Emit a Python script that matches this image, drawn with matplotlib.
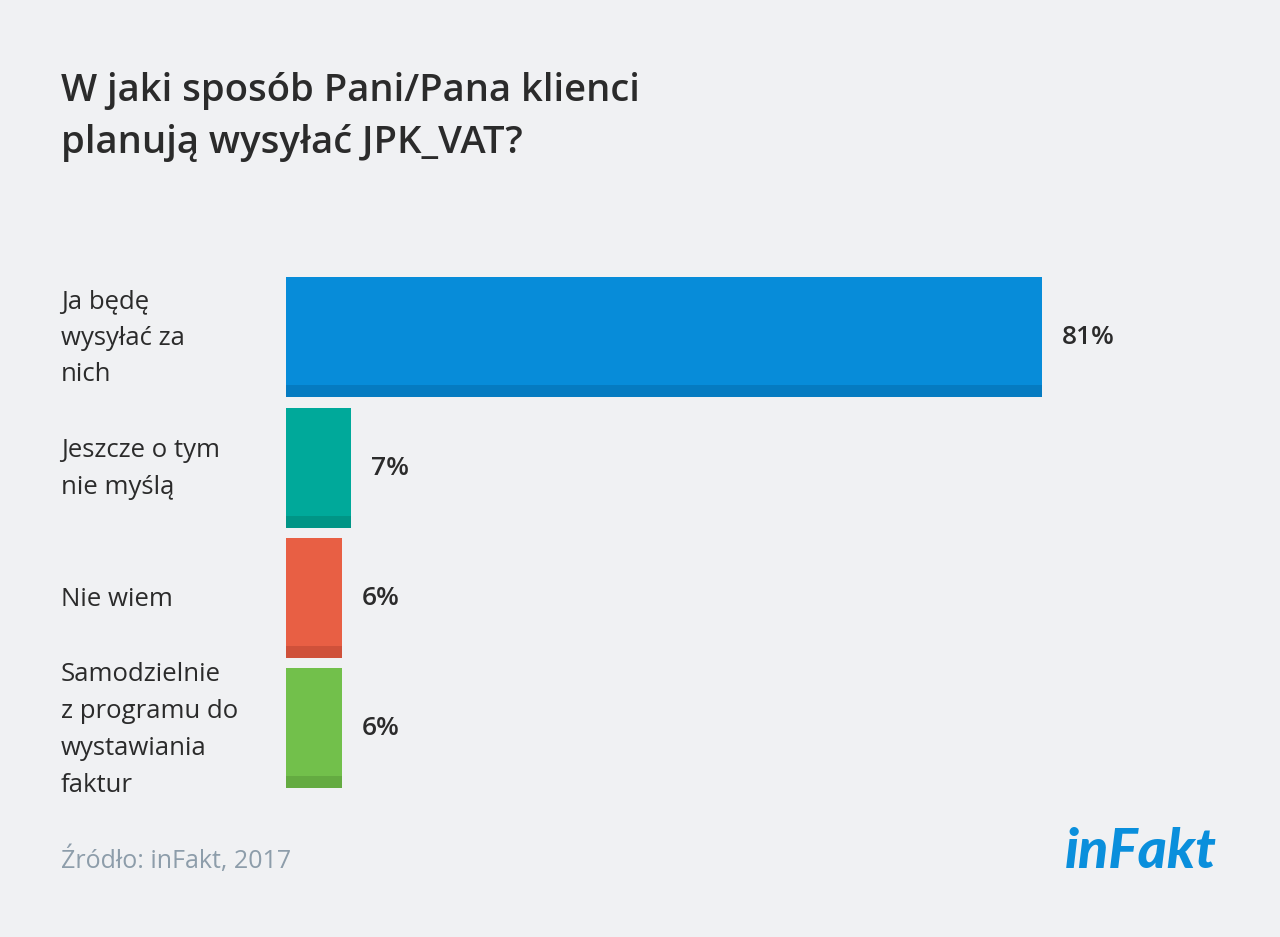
import matplotlib.pyplot as plt
from matplotlib.patches import Rectangle

# Data
categories = [
    "Ja będę\nwysyłać za\nnich",
    "Jeszcze o tym\nnie myślą",
    "Nie wiem",
    "Samodzielnie\nz programu do\nwystawiania\nfaktur",
]
values = [81, 7, 6, 6]
value_labels = ["81%", "7%", "6%", "6%"]
colors = ["#078cd9", "#00a99a", "#e85f44", "#72c04b"]
dark_colors = ["#057bc1", "#009586", "#cf513a", "#64ab41"]

BG = "#f0f1f3"
TEXT = "#2b2b2b"
FONT = ["Open Sans", "DejaVu Sans"]

W, H = 1280, 937
fig = plt.figure(figsize=(W / 100, 9.375), dpi=100)
fig.patch.set_facecolor(BG)

# axes in pixel terms: x from 286 px, 9.333 px per percent
ax_left, ax_right = 286, 286 + 100 * 756 / 81
ax_top, ax_bottom = 272.25, 793.75
ax = fig.add_axes([ax_left / W, 1 - ax_bottom / H,
                   (ax_right - ax_left) / W, (ax_bottom - ax_top) / H])
ax.set_facecolor(BG)
ax.set_xlim(0, 100)
ax.set_ylim(3.5, -0.5)
ax.axis("off")

bar_h = 120 / 130.5
strip = 12 / 130.5
for i, (v, c, dc) in enumerate(zip(values, colors, dark_colors)):
    ax.barh(i, v, height=bar_h, color=c, left=0)
    ax.add_patch(Rectangle((0, i + bar_h / 2 - strip), v, strip,
                           facecolor=dc, edgecolor="none"))
    ax.text(v + 20 / 9.333, i, value_labels[i], va="center", ha="left",
            fontsize=19, fontweight="semibold", color=TEXT, family=FONT)

for i, lab in enumerate(categories):
    y = 1 - (338 + i * 130.5) / H
    fig.text(61 / W, y, lab, va="center", ha="left", fontsize=18.5,
             color=TEXT, family=FONT, linespacing=1.62)

fig.text(61 / W, 1 - 117 / H, "W jaki sposób Pani/Pana klienci\nplanują wysyłać JPK_VAT?",
         va="center", ha="left", fontsize=27.5, fontweight="semibold",
         color=TEXT, family=FONT, linespacing=1.5)

fig.text(61 / W, 1 - 860 / H, "Źródło: inFakt, 2017", va="center", ha="left",
         fontsize=18, color="#8d9daa", family=FONT)

fig.text(1217 / W, 1 - 852 / H, "inFakt", va="center", ha="right",
         fontsize=40, fontweight="black", style="italic", color="#0a8fdc",
         family=["Lato", "DejaVu Sans"])

fig.savefig("out.png", dpi=100, facecolor=BG)
